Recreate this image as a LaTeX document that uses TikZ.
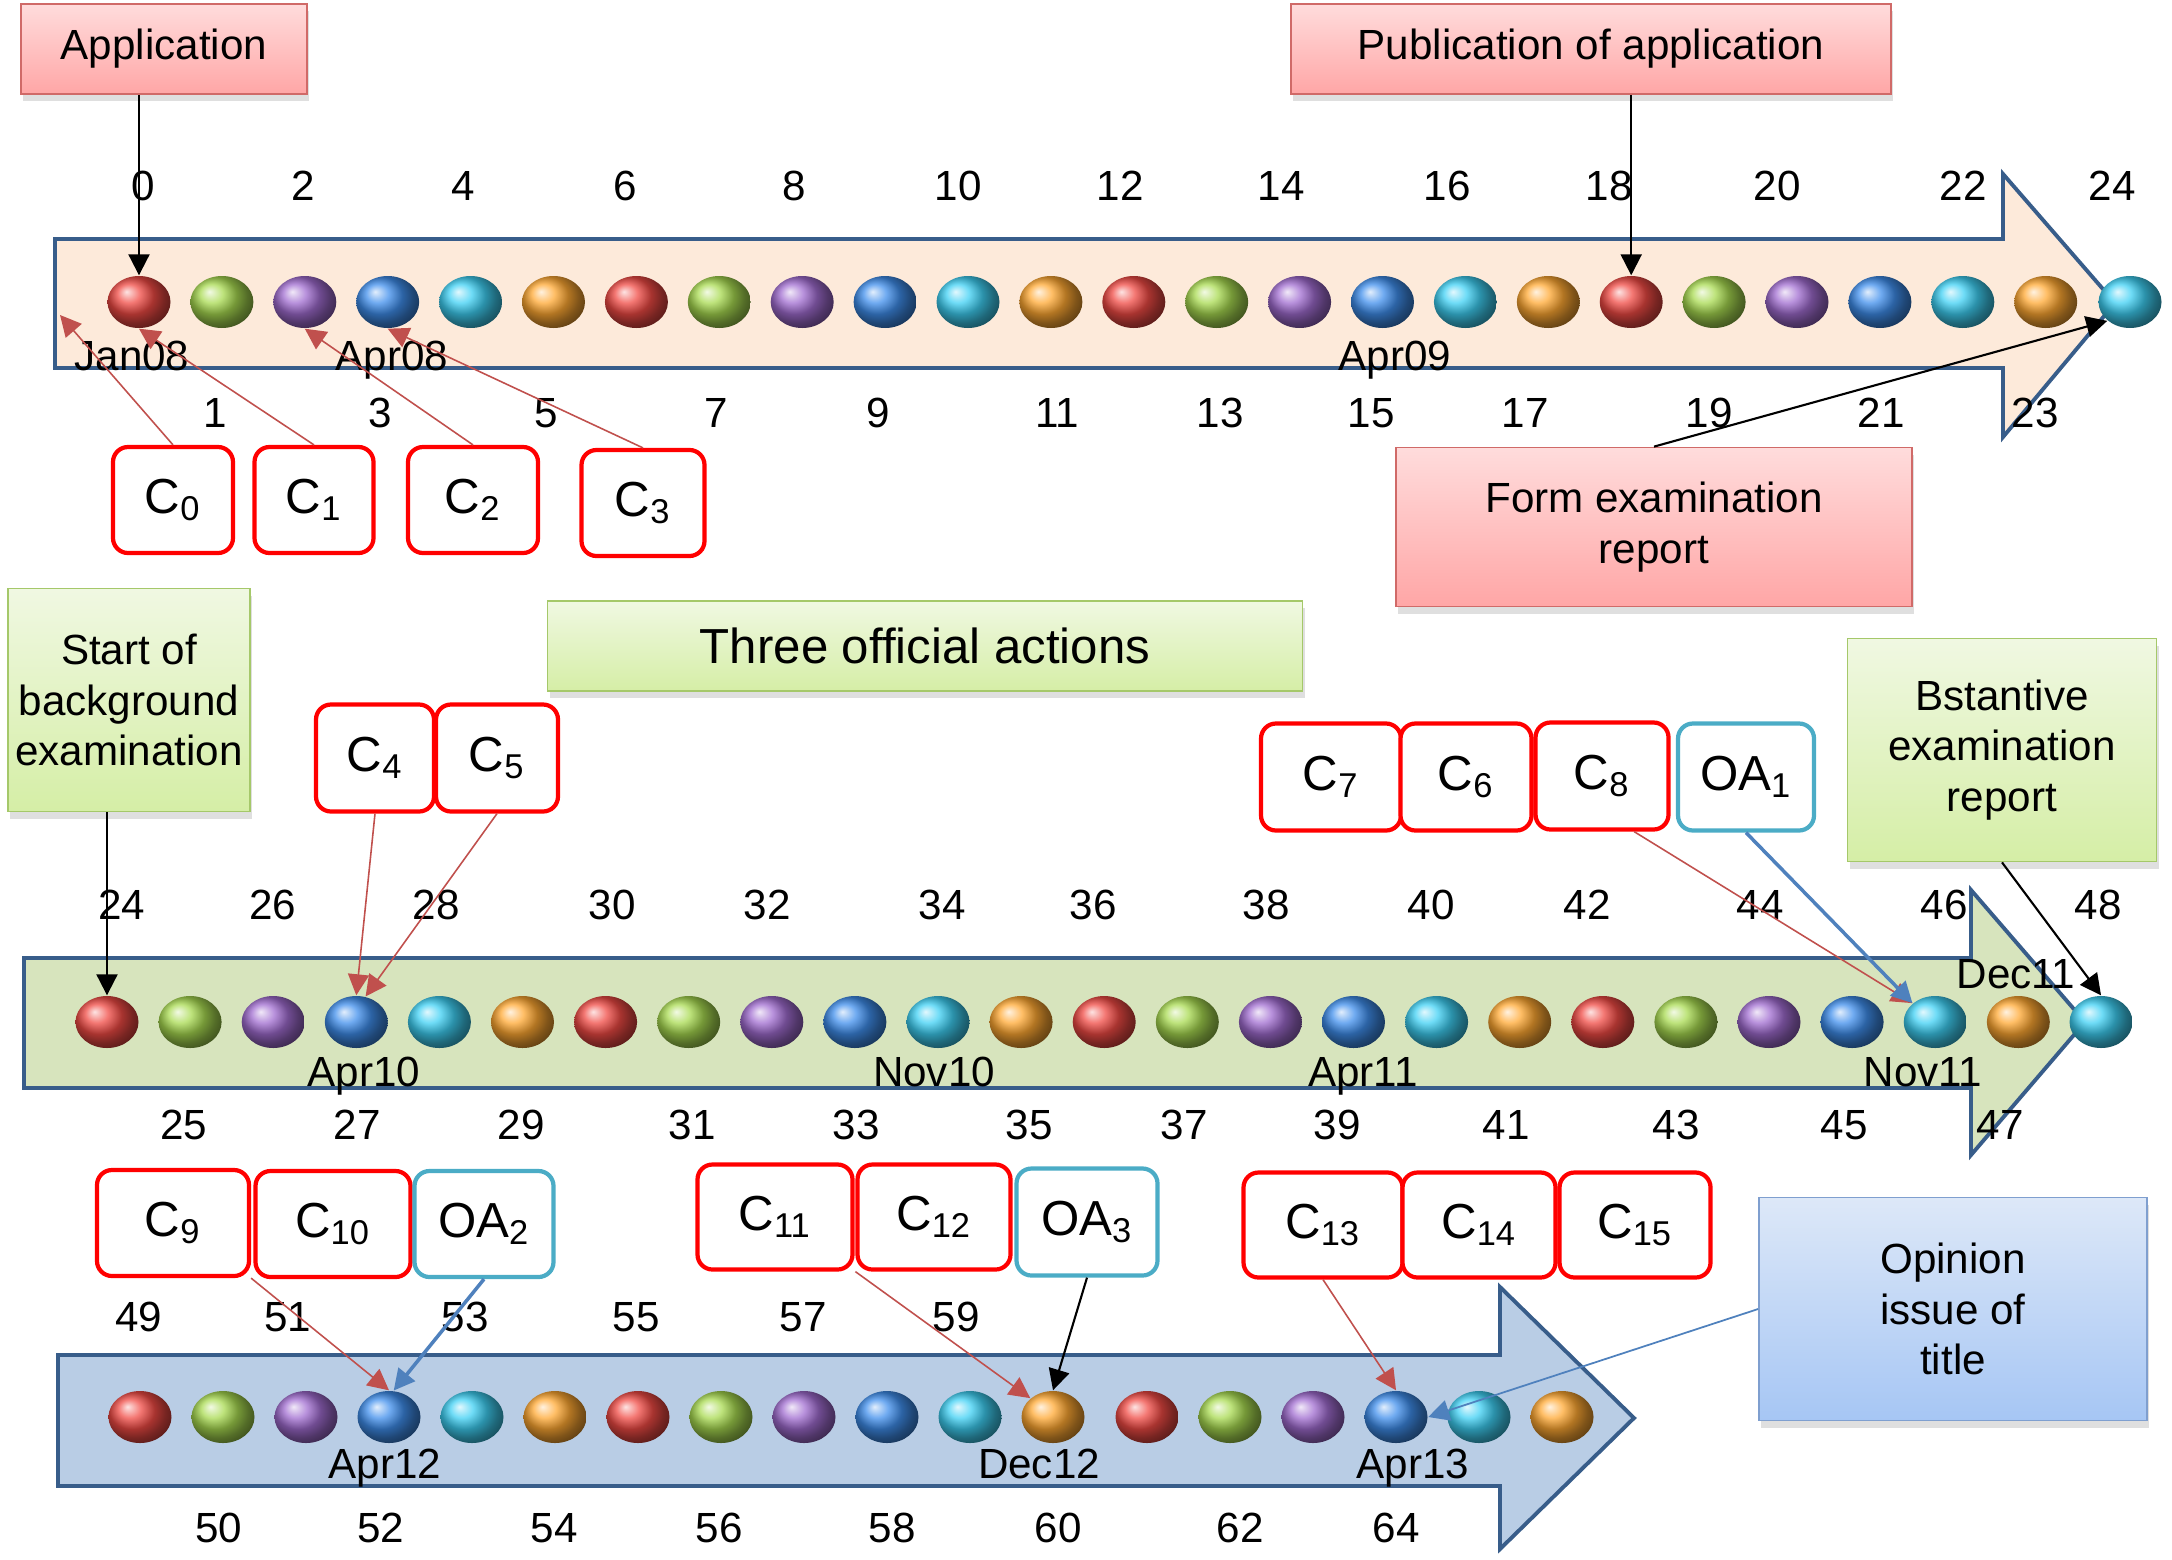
\documentclass[tikz,border=0pt]{standalone}
\usepackage{fontspec}
\setmainfont{Liberation Sans}
\usetikzlibrary{arrows.meta,positioning,shapes.geometric,shadows}
\definecolor{bandline}{HTML}{385D8A}
\definecolor{band1}{HTML}{FDEADA}
\definecolor{band2}{HTML}{D7E4BD}
\definecolor{band3}{HTML}{B9CDE5}
\definecolor{ballc0}{HTML}{F04A44}
\definecolor{ballc1}{HTML}{A8DA50}
\definecolor{ballc2}{HTML}{A06CD0}
\definecolor{ballc3}{HTML}{3F8EEC}
\definecolor{ballc4}{HTML}{3ED0F4}
\definecolor{ballc5}{HTML}{FFA832}
\definecolor{cred}{HTML}{FF0000}
\definecolor{oacyan}{HTML}{4BACC6}
\definecolor{linkred}{HTML}{C0504D}
\definecolor{linkblue}{HTML}{4F81BD}
\definecolor{pinktop}{HTML}{FFDCDC}
\definecolor{pinkbot}{HTML}{FFA6A6}
\definecolor{pinkline}{HTML}{D06A68}
\definecolor{greentop}{HTML}{F0F8E2}
\definecolor{greenbot}{HTML}{D5EEA6}
\definecolor{greenline}{HTML}{A5C86A}
\definecolor{bluetop}{HTML}{DDE8F8}
\definecolor{bluebot}{HTML}{A6C6F4}
\definecolor{blueline}{HTML}{7F9FCF}
\tikzset{
  band/.style={draw=bandline, line width=1.1pt, line join=miter, fill=#1},
  bead/.style={ellipse, minimum width=0.63cm, minimum height=0.52cm, inner sep=0pt, ball color=#1},
  numlab/.style={inner sep=0pt, font=\fontsize{12}{14}\selectfont},
  datelab/.style={numlab, text depth=0pt},
  textbox/.style={draw=#1line, line width=0.5pt, top color=#1top, bottom color=#1bot, align=center, inner sep=2pt,
    font=\fontsize{12}{14.4}\selectfont, drop shadow={shadow xshift=0.6pt, shadow yshift=-2pt, opacity=0.25}},
  cbox/.style={draw=cred, fill=white, line width=1.2pt, rounded corners=0.15cm, inner sep=0pt, font=\fontsize{14}{16}\selectfont},
  oabox/.style={cbox, draw=oacyan},
  arr/.style={-{Triangle[length=0.21cm,width=0.21cm]}, line width=0.6pt, draw=#1},
  arr/.default=black,
}
\begin{document}
\begin{tikzpicture}[font=\fontsize{12}{14.4}\selectfont]
\useasboundingbox (0,0) rectangle (21.72,-15.59);
\draw[band=band1] (0.55,-2.39) -- (20.03,-2.39) -- (20.03,-1.74) -- (21.15,-3.03) -- (20.03,-4.37) -- (20.03,-3.68) -- (0.55,-3.68) -- cycle;
\draw[band=band2] (0.24,-9.58) -- (19.71,-9.58) -- (19.71,-8.90) -- (20.85,-10.22) -- (19.71,-11.55) -- (19.71,-10.88) -- (0.24,-10.88) -- cycle;
\draw[band=band3] (0.58,-13.55) -- (15.00,-13.55) -- (15.00,-12.87) -- (16.34,-14.18) -- (15.00,-15.49) -- (15.00,-14.86) -- (0.58,-14.86) -- cycle;
\coordinate (r1tail) at (0.60,-3.15);

\foreach \i in {0,...,23} {\pgfmathtruncatemacro\k{mod(\i,6)} \node[bead=ballc\k] (r1m\i) at ({1.39+0.829*\i},-3.02) {};}
\node[bead=ballc4] (r1m24) at (21.30,-3.02) {};
\foreach \i in {24,...,47} {\pgfmathtruncatemacro\k{mod(\i,6)} \node[bead=ballc\k] (r2m\i) at ({1.07+0.831*(\i-24)},-10.22) {};}
\node[bead=ballc4] (r2m48) at (21.01,-10.22) {};
\foreach \i in {49,...,60} {\pgfmathtruncatemacro\k{mod(\i-49,6)} \node[bead=ballc\k] (r3m\i) at ({1.40+0.83*(\i-49)},-14.17) {};}
\foreach \i in {61,...,66} {\pgfmathtruncatemacro\k{mod(\i-61,6)} \node[bead=ballc\k] (r3m\i) at ({11.47+0.83*(\i-61)},-14.17) {};}

\foreach \n/\x in {0/1.43,2/3.03,4/4.63,6/6.25,8/7.94,10/9.58,12/11.20,14/12.81,16/14.47,18/16.09,20/17.77,22/19.63,24/21.12}
  \node[numlab] (lab1-\n) at (\x,-1.86) {\n};
\foreach \n/\x in {1/2.15,3/3.80,5/5.46,7/7.16,9/8.78,11/10.57,13/12.20,15/13.71,17/15.25,19/17.09,21/18.81,23/20.35}
  \node[numlab] (lab1-\n) at (\x,-4.13) {\n};
\foreach \n/\x in {24/1.22,26/2.73,28/4.36,30/6.12,32/7.67,34/9.42,36/10.93,38/12.66,40/14.31,42/15.87,44/17.60,46/19.44,48/20.98}
  \node[numlab] (lab2-\n) at (\x,-9.05) {\n};
\foreach \n/\x in {25/1.84,27/3.57,29/5.21,31/6.92,33/8.56,35/10.29,37/11.84,39/13.37,41/15.06,43/16.76,45/18.44,47/20.00}
  \node[numlab] (lab2-\n) at (\x,-11.25) {\n};
\foreach \n/\x in {49/1.39,51/2.88,53/4.65,55/6.36,57/8.03,59/9.56}
  \node[numlab] (lab3-\n) at (\x,-13.17) {\n};
\foreach \n/\x in {50/2.19,52/3.81,54/5.54,56/7.19,58/8.92,60/10.58,62/12.40,64/13.96}
  \node[numlab] (lab3-\n) at (\x,-15.28) {\n};

\node[datelab] (jan08) at (1.32,-3.56) {Jan08};
\node[datelab] (apr08) at (3.92,-3.56) {Apr08};
\node[datelab] (apr09) at (13.95,-3.56) {Apr09};
\node[datelab] (apr10) at (3.64,-10.72) {Apr10};
\node[datelab] (nov10) at (9.34,-10.72) {Nov10};
\node[datelab] (apr11) at (13.63,-10.72) {Apr11};
\node[datelab] (nov11) at (19.23,-10.72) {Nov11};
\node[datelab] (dec11) at (20.16,-9.74) {Dec11};
\node[datelab] (apr12) at (3.85,-14.64) {Apr12};
\node[datelab] (dec12) at (10.39,-14.64) {Dec12};
\node[datelab] (apr13) at (14.13,-14.64) {Apr13};

\node[textbox=pink, minimum width=2.86cm, minimum height=0.90cm] (appl) at (1.64,-0.49) {Application};
\node[textbox=pink, minimum width=6.00cm, minimum height=0.90cm] (publ) at (15.91,-0.49) {Publication of application};
\node[textbox=pink, minimum width=5.16cm, minimum height=1.59cm] (formrep) at (16.54,-5.27) {Form examination\\report};
\node[textbox=green, minimum width=2.41cm, minimum height=2.23cm] (startbg) at (1.29,-7.00) {Start of\\background\\examination};
\node[textbox=green, minimum width=7.55cm, minimum height=0.90cm, font=\fontsize{14}{16}\selectfont] (threeoa) at (9.25,-6.46) {Three official actions};
\node[textbox=green, minimum width=3.09cm, minimum height=2.23cm] (substrep) at (20.02,-7.50) {Bstantive\\examination\\report};
\node[textbox=blue, minimum width=3.88cm, minimum height=2.23cm] (opinion) at (19.53,-13.09) {Opinion\\issue of\\title};

\node[cbox, minimum width=1.20cm, minimum height=1.06cm] (c0) at (1.73,-5.00) {C\textsubscript{0}};
\node[cbox, minimum width=1.19cm, minimum height=1.06cm] (c1) at (3.14,-5.00) {C\textsubscript{1}};
\node[cbox, minimum width=1.30cm, minimum height=1.06cm] (c2) at (4.73,-5.00) {C\textsubscript{2}};
\node[cbox, minimum width=1.23cm, minimum height=1.06cm] (c3) at (6.43,-5.03) {C\textsubscript{3}};
\node[cbox, minimum width=1.18cm, minimum height=1.07cm] (c4) at (3.75,-7.58) {C\textsubscript{4}};
\node[cbox, minimum width=1.22cm, minimum height=1.07cm] (c5) at (4.97,-7.58) {C\textsubscript{5}};
\node[cbox, minimum width=1.40cm, minimum height=1.07cm] (c7) at (13.31,-7.77) {C\textsubscript{7}};
\node[cbox, minimum width=1.31cm, minimum height=1.07cm] (c6) at (14.66,-7.77) {C\textsubscript{6}};
\node[cbox, minimum width=1.33cm, minimum height=1.07cm] (c8) at (16.02,-7.76) {C\textsubscript{8}};
\node[oabox, minimum width=1.36cm, minimum height=1.07cm] (oa1) at (17.46,-7.77) {OA\textsubscript{1}};
\node[cbox, minimum width=1.52cm, minimum height=1.06cm] (c9) at (1.73,-12.23) {C\textsubscript{9}};
\node[cbox, minimum width=1.55cm, minimum height=1.06cm] (c10) at (3.33,-12.24) {C\textsubscript{10}};
\node[oabox, minimum width=1.39cm, minimum height=1.06cm] (oa2) at (4.84,-12.24) {OA\textsubscript{2}};
\node[cbox, minimum width=1.55cm, minimum height=1.05cm] (c11) at (7.75,-12.17) {C\textsubscript{11}};
\node[cbox, minimum width=1.53cm, minimum height=1.05cm] (c12) at (9.34,-12.17) {C\textsubscript{12}};
\node[oabox, minimum width=1.41cm, minimum height=1.07cm] (oa3) at (10.87,-12.22) {OA\textsubscript{3}};
\node[cbox, minimum width=1.59cm, minimum height=1.05cm] (c13) at (13.23,-12.25) {C\textsubscript{13}};
\node[cbox, minimum width=1.53cm, minimum height=1.05cm] (c14) at (14.79,-12.25) {C\textsubscript{14}};
\node[cbox, minimum width=1.51cm, minimum height=1.05cm] (c15) at (16.35,-12.25) {C\textsubscript{15}};

\draw[arr] (appl.south -| r1m0.north) -- (r1m0.north);
\draw[arr] (publ.south -| r1m18.north) -- (r1m18.north);
\draw[arr] (formrep.north) -- (r1m24.south west);
\draw[arr=linkred, line width=0.45pt] (c0.north) -- (r1tail);
\draw[arr=linkred, line width=0.45pt] (c1.north) -- (r1m0.south);
\draw[arr=linkred, line width=0.45pt] (c2.north) -- (r1m2.south);
\draw[arr=linkred, line width=0.45pt] (c3.north) -- (r1m3.south);
\draw[arr] (startbg.south -| r2m24.north) -- (r2m24.north);
\draw[arr=linkred, line width=0.45pt] (c4.south) -- (r2m27.north);
\draw[arr=linkred, line width=0.45pt] (c5.south) -- (r2m27.70);
\draw[arr=linkred, line width=0.45pt] (c8.-60) -- (r2m46.north west);
\draw[arr=linkblue, line width=1pt] (oa1.south) -- (r2m46.north west);
\draw[arr] (substrep.south) -- (r2m48.north);
\draw[arr=linkred, line width=0.45pt] (c9.south east) -- (r3m52.north);
\draw[arr=linkblue, line width=1pt] (oa2.south) -- (r3m52.80);
\draw[arr=linkred, line width=0.45pt] (c12.south west) -- (r3m60.north west);
\draw[arr] (oa3.south) -- (r3m60.north);
\draw[arr=linkred, line width=0.45pt] (c13.south) -- (r3m64.north);
\draw[arr=linkblue, line width=0.5pt] (opinion.west) -- (r3m64.east);
\end{tikzpicture}
\end{document}
